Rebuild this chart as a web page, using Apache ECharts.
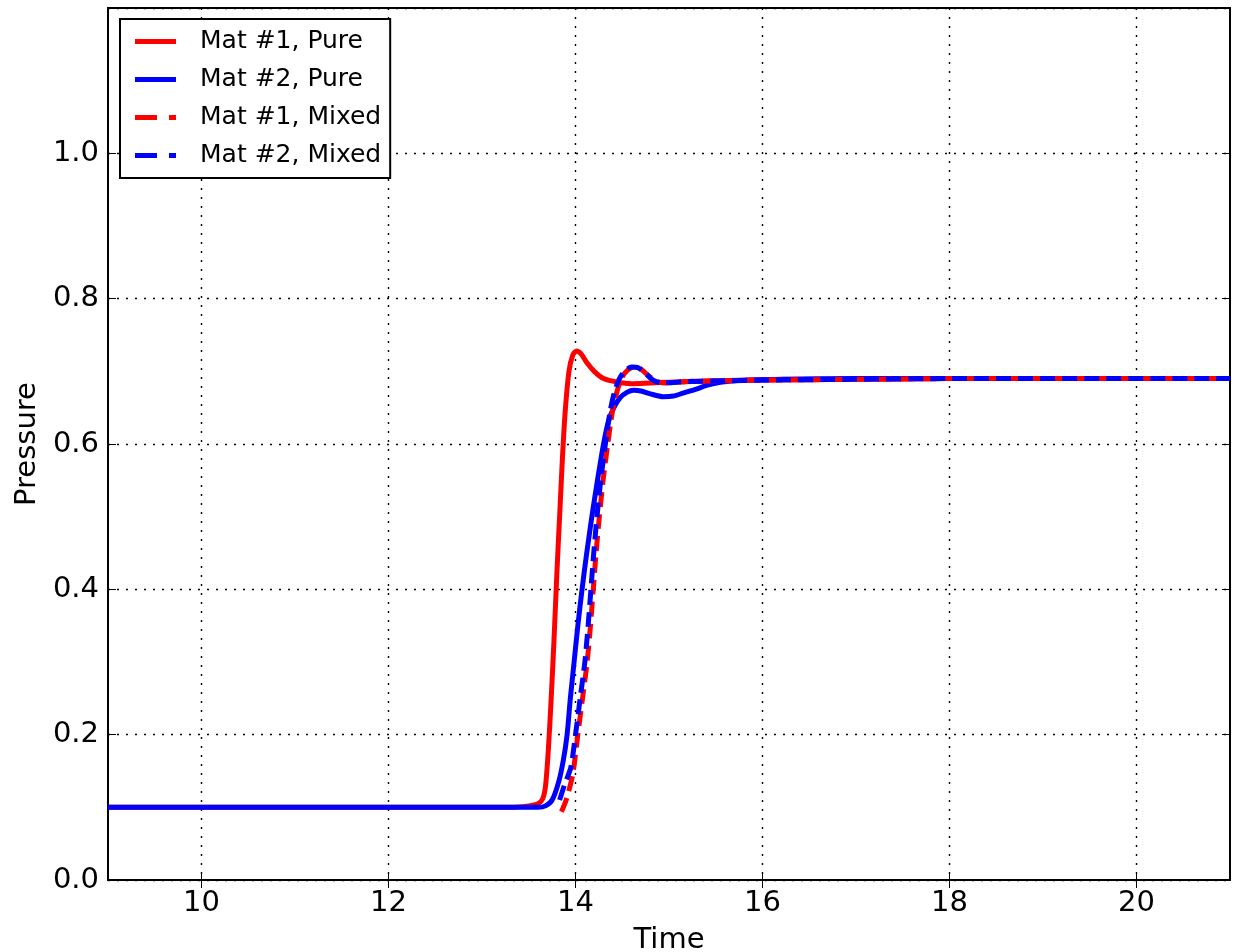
<!DOCTYPE html>
<html>
<head>
<meta charset="utf-8">
<script src="https://cdn.jsdelivr.net/npm/echarts@6/dist/echarts.min.js"></script>
<style>
html,body{margin:0;padding:0;background:#fff;}
#chart{width:1237px;height:952px;}
</style>
</head>
<body>
<div id="chart"></div>
<script>
const seriesNames = ['Mat #1, Pure', 'Mat #2, Pure', 'Mat #1, Mixed', 'Mat #2, Mixed'];
const xTicks = [10, 12, 14, 16, 18, 20];

const mat1Pure = [
  [9,0.1],[13.3,0.1],[13.5,0.102],[13.6,0.105],[13.65,0.112],[13.68,0.13],[13.71,0.18],
  [13.74,0.25],[13.77,0.33],[13.8,0.42],[13.83,0.5],[13.86,0.58],[13.89,0.645],[13.93,0.7],
  [13.97,0.722],[14.01,0.728],[14.06,0.724],[14.12,0.712],[14.2,0.70],[14.3,0.69],
  [14.45,0.685],[14.6,0.683],[14.8,0.684],[15.0,0.685],[15.5,0.687],[16,0.688],[17,0.689],[18,0.69],[21,0.69]
];
const mat2Pure = [
  [9,0.1],[13.6,0.1],[13.68,0.102],[13.75,0.11],[13.82,0.135],[13.87,0.165],[13.91,0.2],
  [13.945,0.25],[13.985,0.3],[14.025,0.35],[14.07,0.4],[14.12,0.45],[14.175,0.5],[14.235,0.55],[14.3,0.6],
  [14.35,0.63],[14.41,0.65],[14.48,0.664],[14.55,0.671],[14.62,0.674],[14.7,0.673],[14.8,0.669],
  [14.94,0.665],[15.05,0.666],[15.15,0.670],[15.3,0.676],[15.41,0.681],[15.55,0.685],[15.7,0.687],
  [15.9,0.688],[16.2,0.689],[17,0.69],[21,0.69]
];
const mat1Mixed = [
  [13.85,0.094],[13.9,0.11],[13.97,0.145],[14.025,0.2],[14.075,0.25],[14.125,0.3],[14.16,0.35],
  [14.19,0.4],[14.22,0.45],[14.255,0.5],[14.295,0.55],[14.345,0.6],[14.395,0.645],[14.45,0.675],
  [14.5,0.692],[14.56,0.702],[14.63,0.706],[14.7,0.703],[14.78,0.694],[14.87,0.686],[14.95,0.684],
  [15.2,0.686],[15.6,0.687],[16,0.688],[17,0.689],[18,0.69],[21,0.69]
];
const mat2Mixed = [
  [13.83,0.11],[13.88,0.13],[13.95,0.155],[14.0,0.2],[14.05,0.25],[14.1,0.3],[14.135,0.35],
  [14.165,0.4],[14.195,0.45],[14.23,0.5],[14.27,0.55],[14.32,0.6],[14.37,0.645],[14.42,0.673],
  [14.47,0.69],[14.53,0.701],[14.6,0.706],[14.67,0.705],[14.75,0.697],[14.83,0.688],[14.92,0.684],
  [15.2,0.686],[15.6,0.687],[16,0.688],[17,0.689],[18,0.69],[21,0.69]
];

const FONT = 'DejaVu Sans';
const chart = echarts.init(document.getElementById('chart'), null, {renderer: 'canvas'});

function mkSeries(name, data, color, dashed) {
  return {
    name: name, type: 'line', data: data, symbol: 'none', showSymbol: false,
    smooth: 0.25,
    lineStyle: {color: color, width: 5, type: dashed ? [15, 7] : 'solid', cap: 'butt', join: 'round'},
    itemStyle: {color: color},
    emphasis: {disabled: true}
  };
}

const solidIcon = 'path://M0,0h41v5h-41z';
const dashIcon = 'path://M0,0h22v5h-22z M34,0h7v5h-7z';

const gridLine = {show: true, lineStyle: {color: '#000', width: 1.4, type: [2, 7]}};

chart.setOption({
  animation: false,
  backgroundColor: '#fff',
  textStyle: {fontFamily: FONT},
  grid: {left: 108, right: 7, top: 8, bottom: 72, outerBoundsMode: 'none', containLabel: false,
    show: true, borderColor: '#000', borderWidth: 2, backgroundColor: 'transparent'},
  legend: {
    orient: 'vertical', left: 120, top: 19,
    data: [
      {name: seriesNames[0], icon: solidIcon},
      {name: seriesNames[1], icon: solidIcon},
      {name: seriesNames[2], icon: dashIcon},
      {name: seriesNames[3], icon: dashIcon}
    ],
    itemWidth: 41, itemHeight: 5, itemGap: 9,
    padding: [8, 9, 8, 15],
    borderColor: '#000', borderWidth: 2, backgroundColor: '#fff',
    textStyle: {fontFamily: FONT, fontSize: 25, color: '#000', lineHeight: 29, padding: [0, 0, 0, 19]},
    selectedMode: false
  },
  xAxis: [{
    type: 'value', min: 9, max: 21,
    name: 'Time', nameLocation: 'middle', nameGap: 46,
    nameTextStyle: {fontFamily: FONT, fontSize: 29, color: '#000'},
    axisLine: {show: true, onZero: false, lineStyle: {color: '#000', width: 2}},
    axisTick: {show: true, inside: true, length: 8, customValues: xTicks, lineStyle: {color: '#000', width: 1}},
    axisLabel: {fontFamily: FONT, fontSize: 29, color: '#000', margin: 9, customValues: xTicks},
    splitLine: gridLine
  }, {
    type: 'value', min: 9, max: 21, position: 'top',
    axisLine: {show: false},
    axisTick: {show: true, inside: true, length: 8, customValues: xTicks, lineStyle: {color: '#000', width: 1}},
    axisLabel: {show: false},
    splitLine: {show: false}
  }],
  yAxis: [{
    type: 'value', min: 0, max: 1.2, interval: 0.2,
    name: 'Pressure', nameLocation: 'middle', nameGap: 64,
    nameTextStyle: {fontFamily: FONT, fontSize: 29, color: '#000'},
    axisLine: {show: true, onZero: false, lineStyle: {color: '#000', width: 2}},
    axisTick: {show: true, inside: true, length: 8, lineStyle: {color: '#000', width: 1}},
    axisLabel: {fontFamily: FONT, fontSize: 29, color: '#000', margin: 9,
      formatter: function (v) { return v > 1.1 ? '' : v.toFixed(1); }},
    splitLine: gridLine
  }, {
    type: 'value', min: 0, max: 1.2, interval: 0.2, position: 'right',
    axisLine: {show: false},
    axisTick: {show: true, inside: true, length: 8, lineStyle: {color: '#000', width: 1}},
    axisLabel: {show: false},
    splitLine: {show: false}
  }],
  series: [
    mkSeries(seriesNames[0], mat1Pure, '#ff0000', false),
    mkSeries(seriesNames[1], mat2Pure, '#0000ff', false),
    mkSeries(seriesNames[2], mat1Mixed, '#ff0000', true),
    mkSeries(seriesNames[3], mat2Mixed, '#0000ff', true)
  ]
});
</script>
</body>
</html>
